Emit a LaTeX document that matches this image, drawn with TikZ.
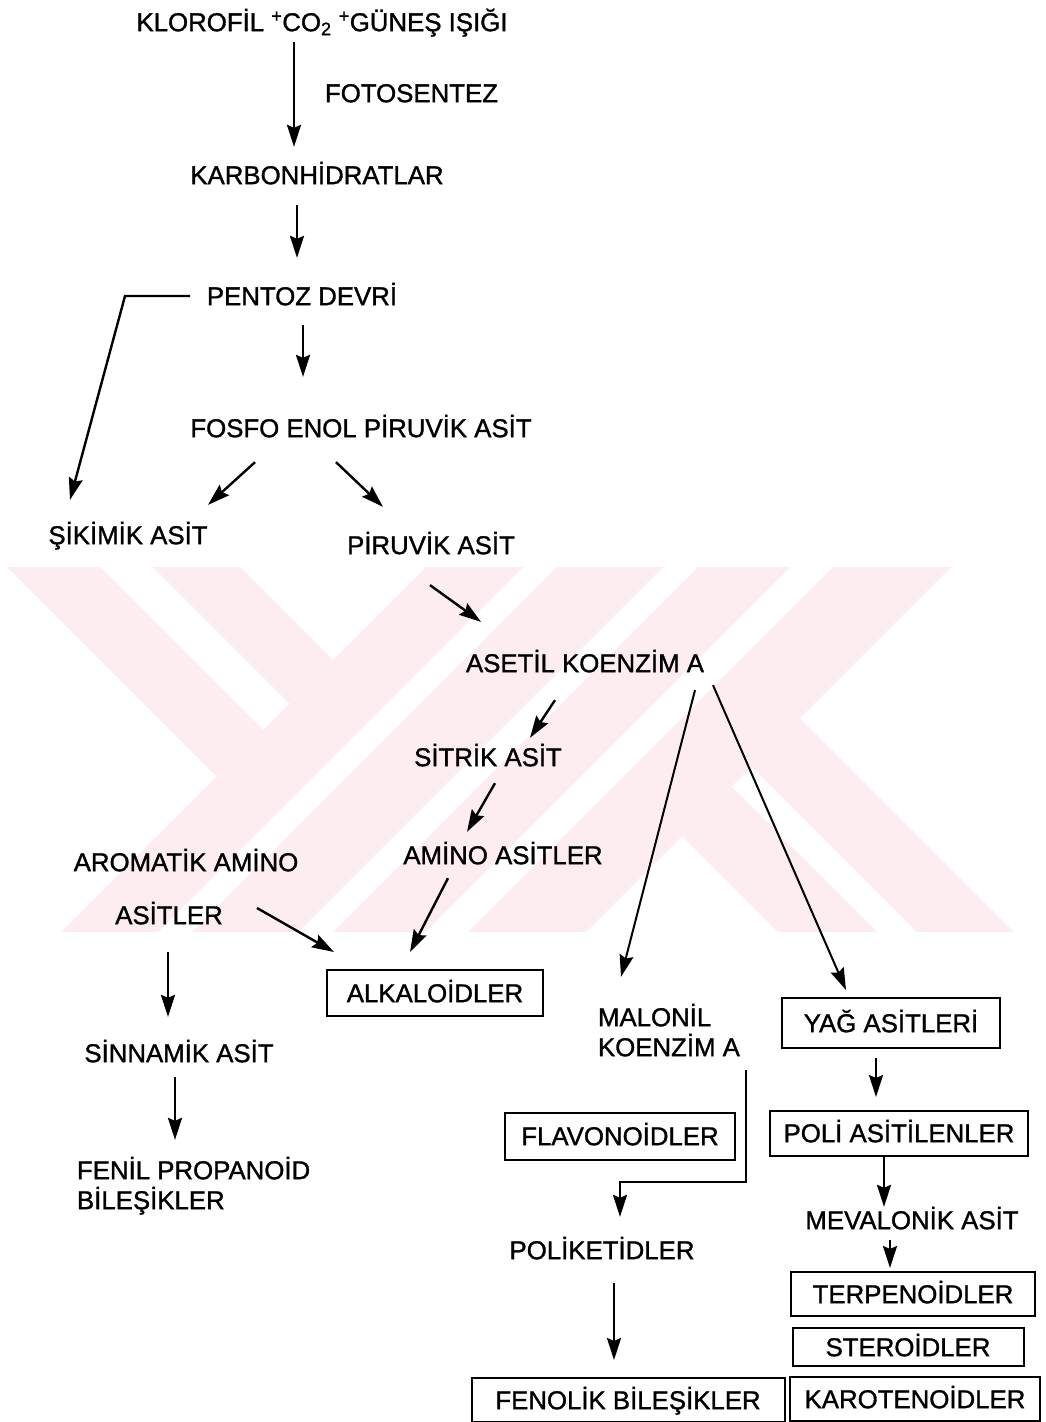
\documentclass[tikz,border=0pt]{standalone}
\usepackage{fontspec}
\setmainfont{Liberation Sans}[FakeBold=1.2]
\usetikzlibrary{arrows.meta}
\definecolor{wmpink}{RGB}{253,237,240}
\begin{document}
\begin{tikzpicture}[x=1pt,y=-1pt,
  lbl/.style={inner sep=0pt,outer sep=0pt,text height=18.3pt,text depth=0pt,font=\fontsize{25.8}{30}\selectfont},
  kutu/.style={lbl,draw,line width=2pt},
  ok/.style={line width=2.4pt,-{Stealth[length=22pt,width=14pt,inset=3pt]}}]
\useasboundingbox (0,0) rectangle (1046,1422);
\fill[wmpink] (7,567) -- (100,567) -- (263,730) -- (216.5,776.5) -- cycle;
\fill[wmpink] (153,567) -- (240,567) -- (333,660) -- (289.5,703.5) -- cycle;
\fill[wmpink] (426,567) -- (523,567) -- (158,932) -- (61,932) -- cycle;
\fill[wmpink] (557,567) -- (663,567) -- (298,932) -- (192,932) -- cycle;
\fill[wmpink] (698,567) -- (790,567) -- (425,932) -- (333,932) -- cycle;
\fill[wmpink] (833,567) -- (951,567) -- (586,932) -- (468,932) -- cycle;
\fill[wmpink] (800,718) -- (1014,932) -- (917,932) -- (751.5,766.5) -- cycle;
\fill[wmpink] (731.5,786.5) -- (877,932) -- (778,932) -- (682,836) -- cycle;
\node[lbl] (klor) at (322,22) {KLOROFİL \textsuperscript{+}CO\textsubscript{2} \textsuperscript{+}GÜNEŞ IŞIĞI};
\node[lbl,anchor=west] (foto) at (325,93) {FOTOSENTEZ};
\node[lbl] (karb) at (317,175) {KARBONHİDRATLAR};
\node[lbl] (pentoz) at (302,296) {PENTOZ DEVRİ};
\node[lbl] (fosfo) at (361,428) {FOSFO ENOL PİRUVİK ASİT};
\node[lbl] (sikimik) at (128,535) {ŞİKİMİK ASİT};
\node[lbl] (piruvik) at (431,545) {PİRUVİK ASİT};
\node[lbl] (asetil) at (585,663) {ASETİL KOENZİM A};
\node[lbl] (sitrik) at (488,757) {SİTRİK ASİT};
\node[lbl] (amino) at (503,855) {AMİNO ASİTLER};
\node[lbl] (arom) at (186,862) {AROMATİK AMİNO};
\node[lbl] (asitler) at (169,915) {ASİTLER};
\node[kutu,minimum width=216pt,minimum height=46pt] (alkal) at (435,993) {ALKALOİDLER};
\node[lbl,anchor=west] (malonil) at (598,1017) {MALONİL};
\node[lbl,anchor=west] (malonilb) at (598,1047) {KOENZİM A};
\node[kutu,minimum width=218pt,minimum height=50pt] (yag) at (891,1023) {YAĞ ASİTLERİ};
\node[kutu,minimum width=230pt,minimum height=47pt] (flavo) at (620,1136) {FLAVONOİDLER};
\node[kutu,minimum width=258pt,minimum height=45pt] (poli) at (899,1133) {POLİ ASİTİLENLER};
\node[lbl] (meva) at (912,1220) {MEVALONİK ASİT};
\node[kutu,minimum width=244pt,minimum height=44pt] (terpen) at (913,1294) {TERPENOİDLER};
\node[kutu,minimum width=231pt,minimum height=38pt] (steroid) at (908,1347) {STEROİDLER};
\node[kutu,minimum width=250pt,minimum height=44pt] (karot) at (915,1399) {KAROTENOİDLER};
\node[lbl] (poliket) at (602,1250) {POLİKETİDLER};
\node[kutu,minimum width=313pt,minimum height=44pt] (fenolik) at (628,1400) {FENOLİK BİLEŞİKLER};
\node[lbl] (sinnamik) at (179,1053) {SİNNAMİK ASİT};
\node[lbl,anchor=west] (fenil) at (77,1170) {FENİL PROPANOİD};
\node[lbl,anchor=west] (bilesik) at (77,1200) {BİLEŞİKLER};
\draw[ok] ([shift={(-28,11)}]klor.south) -- ([shift={(-23,-19)}]karb.north);
\draw[ok] ([shift={(-20,21)}]karb.south) -- ([shift={(-5,-29)}]pentoz.north);
\draw[ok] ([shift={(-112,0)}]pentoz.center) -- ++(-65,0) -- ([shift={(-58,-26)}]sikimik.north);
\draw[ok] ([shift={(1,20)}]pentoz.south) -- ([shift={(-58,-42)}]fosfo.north);
\draw[ok] ([shift={(-106,25)}]fosfo.south) -- ([shift={(80,-21)}]sikimik.north);
\draw[ok] ([shift={(-25,25)}]fosfo.south) -- ([shift={(-48,-29)}]piruvik.north);
\draw[ok] ([shift={(-1,31)}]piruvik.south) -- ([shift={(-104,-32)}]asetil.north);
\draw[ok] ([shift={(-30,28)}]asetil.south) -- ([shift={(42,-10)}]sitrik.north);
\draw[ok] ([shift={(7,17)}]sitrik.south) -- ([shift={(-36,-14)}]amino.north);
\draw[ok] ([shift={(-55,14)}]amino.south) -- ([shift={(-25,-18)}]alkal.north);
\draw[ok] ([shift={(88,-7)}]asitler.center) -- ([shift={(-101,-18)}]alkal.north);
\draw[ok] ([shift={(-1,28)}]asitler.south) -- ([shift={(-11,-27)}]sinnamik.north);
\draw[ok,line width=2pt] ([shift={(110,18)}]asetil.south) -- ([shift={(23,-31)}]malonil.north west);
\draw[ok,line width=2pt] ([shift={(128,13)}]asetil.south) -- ([shift={(-45,-8)}]yag.north);
\draw[ok] ([shift={(-15,10)}]yag.south) -- ([shift={(-23,-13.5)}]poli.north);
\draw[ok] ([shift={(148,14)}]malonilb.south west) -- ++(0,112) -| ([shift={(18,-24)}]poliket.north);
\draw[ok] ([shift={(-15,1.5)}]poli.south) -- ([shift={(-28,-4)}]meva.north);
\draw[ok] ([shift={(-22,11)}]meva.south) -- ([shift={(-23,-4)}]terpen.north);
\draw[ok] ([shift={(12,24)}]poliket.south) -- ([shift={(-14,-18)}]fenolik.north);
\draw[ok] ([shift={(-4,15)}]sinnamik.south) -- ([shift={(98,-21)}]fenil.north west);
\end{tikzpicture}
\end{document}
